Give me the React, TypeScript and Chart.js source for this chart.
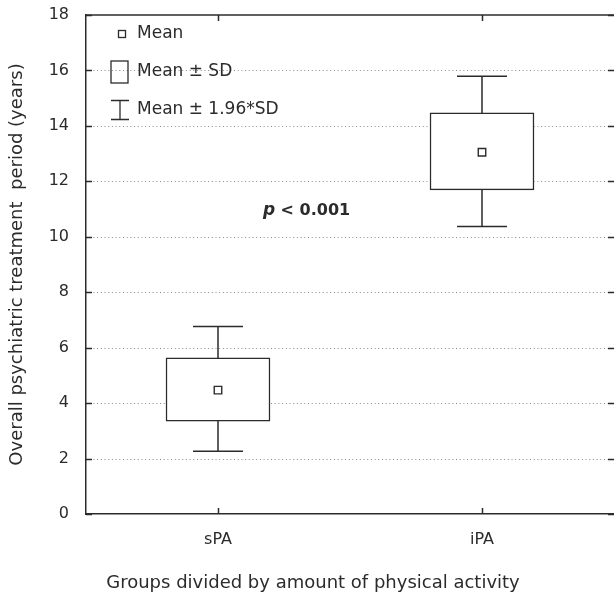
import React, { useEffect, useRef } from "react";
import { Chart, registerables } from "chart.js";

Chart.register(...registerables);

const categories = ["sPA", "iPA"];
const means = [4.47, 13.05];
const sdLow = [3.35, 11.69];
const sdHigh = [5.63, 14.47];
const ciLow = [2.26, 10.37];
const ciHigh = [6.76, 15.79];
const yTicks = [0, 2, 4, 6, 8, 10, 12, 14, 16, 18];
const legendLabels = ["Mean", "Mean \u00b1 SD", "Mean \u00b1 1.96*SD"];
const xTitle = "Groups divided by amount of physical activity";
const yTitle = "Overall psychiatric treatment  period (years)";
const pItalic = "p";
const pRest = " < 0.001";
const pAnchor = { index: 0.17, value: 10.93 };

const FONT = "'DejaVu Sans', sans-serif";
const INK = "#2b2b2b";

const framePlugin = {
  id: "frame",
  beforeDatasetsDraw(chart: any) {
    const { ctx, chartArea: a, scales } = chart;
    const y = scales.y;
    const x = scales.x;
    ctx.save();
    ctx.strokeStyle = "#8c8c8c";
    ctx.lineWidth = 1;
    ctx.setLineDash([1, 2.7]);
    yTicks.forEach((v) => {
      if (v === yTicks[0] || v === yTicks[yTicks.length - 1]) return;
      const py = Math.round(y.getPixelForValue(v)) + 0.5;
      ctx.beginPath();
      ctx.moveTo(a.left, py);
      ctx.lineTo(a.right, py);
      ctx.stroke();
    });
    ctx.setLineDash([]);
    ctx.strokeStyle = INK;
    ctx.lineWidth = 1.5;
    categories.forEach((_, i) => {
      const px = x.getPixelForValue(i);
      const top = y.getPixelForValue(ciHigh[i]);
      const bot = y.getPixelForValue(ciLow[i]);
      ctx.beginPath();
      ctx.moveTo(px, top);
      ctx.lineTo(px, bot);
      ctx.moveTo(px - 25, top);
      ctx.lineTo(px + 25, top);
      ctx.moveTo(px - 25, bot);
      ctx.lineTo(px + 25, bot);
      ctx.stroke();
    });
    ctx.restore();
  },
  afterDraw(chart: any) {
    const { ctx, chartArea: a, scales } = chart;
    const y = scales.y;
    const x = scales.x;
    ctx.save();
    ctx.strokeStyle = INK;
    ctx.lineWidth = 1.5;
    ctx.beginPath();
    ctx.moveTo(a.left, a.top);
    ctx.lineTo(a.right, a.top);
    ctx.stroke();
    yTicks.forEach((v) => {
      const py = Math.round(y.getPixelForValue(v)) + 0.5;
      ctx.beginPath();
      ctx.moveTo(a.left, py);
      ctx.lineTo(a.left + 6, py);
      ctx.moveTo(a.right - 6, py);
      ctx.lineTo(a.right, py);
      ctx.stroke();
    });
    categories.forEach((_, i) => {
      const px = Math.round(x.getPixelForValue(i)) + 0.5;
      ctx.beginPath();
      ctx.moveTo(px, a.top);
      ctx.lineTo(px, a.top + 6);
      ctx.moveTo(px, a.bottom);
      ctx.lineTo(px, a.bottom - 6);
      ctx.stroke();
    });

    // legend
    ctx.fillStyle = INK;
    ctx.font = `17px ${FONT}`;
    ctx.textBaseline = "middle";
    ctx.textAlign = "left";
    const lx = a.left + 25;
    const tx = a.left + 51;
    const rows = [34, 72, 110];
    ctx.lineWidth = 1.3;
    ctx.strokeRect(lx + 11 - 3.5, rows[0] - 3.5, 7, 7);
    ctx.strokeRect(lx, rows[1] - 11, 17, 22);
    ctx.beginPath();
    ctx.moveTo(lx + 9, rows[2] - 9.5);
    ctx.lineTo(lx + 9, rows[2] + 9.5);
    ctx.moveTo(lx, rows[2] - 9.5);
    ctx.lineTo(lx + 18, rows[2] - 9.5);
    ctx.moveTo(lx, rows[2] + 9.5);
    ctx.lineTo(lx + 18, rows[2] + 9.5);
    ctx.stroke();
    legendLabels.forEach((t, i) => ctx.fillText(t, tx, rows[i]));

    // p value annotation
    const p0 = x.getPixelForValue(0);
    const p1 = x.getPixelForValue(1);
    const ax = p0 + pAnchor.index * (p1 - p0);
    const ay = y.getPixelForValue(pAnchor.value);
    ctx.font = `italic bold 17px ${FONT}`;
    ctx.fillText(pItalic, ax, ay);
    const w = ctx.measureText(pItalic).width;
    ctx.font = `bold 16px ${FONT}`;
    ctx.fillText(pRest, ax + w, ay);

    // axis titles
    ctx.font = `18px ${FONT}`;
    ctx.textAlign = "center";
    ctx.fillText(xTitle, 313, 583);
    ctx.translate(17, (a.top + a.bottom) / 2);
    ctx.rotate(-Math.PI / 2);
    ctx.fillText(yTitle, 0, 0);
    ctx.restore();
  },
};

export default function App() {
  const ref = useRef<HTMLCanvasElement | null>(null);
  useEffect(() => {
    if (!ref.current) return;
    const chart = new Chart(ref.current, {
      data: {
        labels: categories,
        datasets: [
          {
            type: "line",
            data: means,
            showLine: false,
            pointStyle: "rect",
            pointRadius: 5.3,
            pointBackgroundColor: "#ffffff",
            pointBorderColor: INK,
            pointBorderWidth: 1.4,
            order: 1,
          } as any,
          {
            type: "bar",
            data: categories.map((_, i) => [sdLow[i], sdHigh[i]]),
            backgroundColor: "#ffffff",
            borderColor: INK,
            borderWidth: 1.5,
            borderSkipped: false,
            barThickness: 104,
            order: 2,
          } as any,
        ],
      },
      options: {
        responsive: false,
        animation: false,
        layout: { autoPadding: false, padding: { top: 15, right: 0, bottom: 0, left: 0 } },
        plugins: { legend: { display: false }, tooltip: { enabled: false } },
        scales: {
          x: {
            type: "category",
            offset: true,
            grid: { display: false, drawTicks: false },
            border: { display: true, color: INK, width: 1.5 },
            ticks: { color: INK, font: { family: FONT, size: 16 }, padding: 16 },
            afterFit: (s: any) => {
              s.height = 83;
              s.paddingLeft = 0;
              s.paddingRight = 0;
              s.paddingTop = 0;
              s.paddingBottom = 0;
            },
          },
          y: {
            type: "linear",
            min: 0,
            max: 18,
            grid: { display: false, drawTicks: false },
            border: { display: true, color: INK, width: 1.5 },
            ticks: {
              stepSize: 2,
              color: INK,
              font: { family: FONT, size: 16 },
              padding: 17,
            },
            afterFit: (s: any) => {
              s.width = 86;
              s.paddingLeft = 0;
              s.paddingRight = 0;
              s.paddingTop = 0;
              s.paddingBottom = 0;
            },
          },
        },
      },
      plugins: [framePlugin],
    });
    return () => chart.destroy();
  }, []);
  return (
    <div style={{ position: "fixed", left: 0, top: 0, width: 614, height: 597, background: "#fff" }}>
      <canvas ref={ref} width={614} height={597} style={{ display: "block" }} />
    </div>
  );
}
